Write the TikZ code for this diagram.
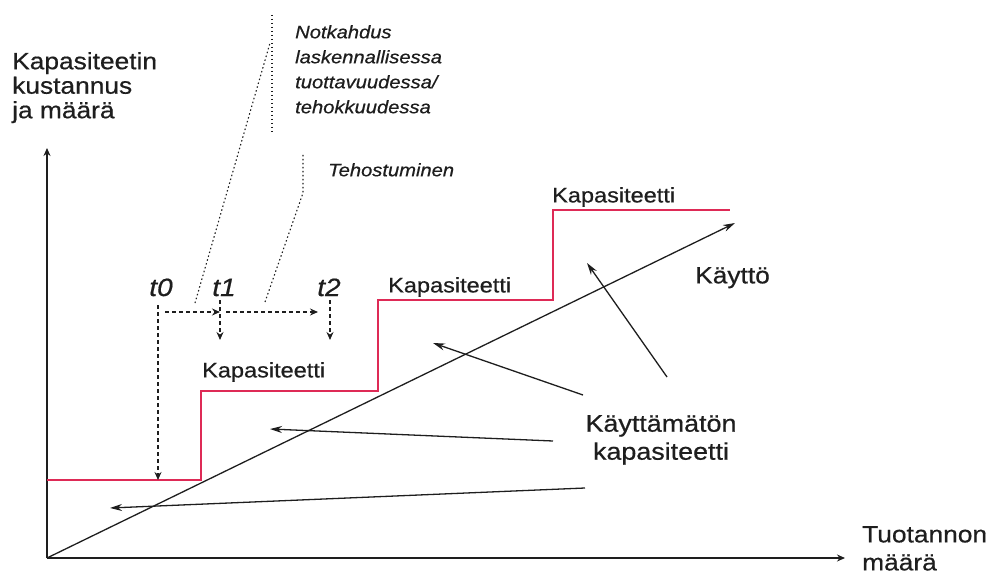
\documentclass[tikz,border=0pt]{standalone}
\usepackage{fontspec}
\setmainfont[FakeStretch=1.12,FakeBold=0.6]{Liberation Sans}
\usepackage{tikz}
\usetikzlibrary{arrows.meta,positioning,calc}
\definecolor{capred}{RGB}{222,42,86}
\definecolor{ink}{RGB}{30,30,30}

\begin{document}
\begin{tikzpicture}[x=1pt,y=-1pt,
  lbl/.style={inner sep=0pt, anchor=north west, text=ink, font=\fontsize{21}{24}\selectfont},
  big/.style={inner sep=0pt, align=left, text=ink, font=\fontsize{23.5}{24.5}\selectfont},
  note/.style={inner sep=0pt, align=left, anchor=north west, text=ink, font=\itshape\fontsize{18}{25}\selectfont},
  tlbl/.style={inner sep=0pt, anchor=base, text=ink, font=\itshape\fontsize{25}{25}\selectfont},
  axis/.style={line width=1.4pt, ink, -{Stealth[length=8pt,width=7pt]}},
  arr/.style={line width=1.3pt, ink, -{Stealth[length=12pt,width=7pt]}},
  capline/.style={line width=2.8pt, capred},
  tdash/.style={line width=1.2pt, ink, dash pattern=on 4pt off 3pt, -{Stealth[length=8pt,width=7pt]}},
  lead/.style={line width=1.1pt, ink, dash pattern=on 1.5pt off 2.5pt}
]
\useasboundingbox (0,0) rectangle (992,577);

\coordinate (O) at (47,558);
\coordinate (ytip) at (47,148);
\coordinate (xtip) at (845,558);
\coordinate (usetip) at (735,223);
\draw[axis] (O) -- (ytip);
\draw[axis] (O) -- (xtip);
\draw[arr] (O) -- (usetip);

\node[big, anchor=north west] (ylabel) at (12,52) {Kapasiteetin\\kustannus\\ja määrä};
\node[big, anchor=north west, font=\fontsize{23.5}{28}\selectfont] (xlabel) at (862,526) {Tuotannon\\määrä};
\node[big, anchor=north west] (use) at (695,267) {Käyttö};
\node[big, align=center, anchor=north, font=\fontsize{24}{28}\selectfont] (unused) at (661,415) {Käyttämätön\\kapasiteetti};

\coordinate (s0) at (47,480);
\coordinate (s1) at (201,391);
\coordinate (s2) at (378,300);
\coordinate (s3) at (553,210);
\coordinate (s4) at (730,210);
\draw[capline] (s0) -| (s1) -| (s2) -| (s3) -- (s4);

\node[lbl] (cap1) at (202,362) {Kapasiteetti};
\node[lbl] (cap2) at (388,277) {Kapasiteetti};
\node[lbl] (cap3) at (552,187) {Kapasiteetti};

\coordinate (u1a) at (585,488); \coordinate (u1b) at (110,508);
\coordinate (u2a) at (553,441); \coordinate (u2b) at (270,429);
\coordinate (u3a) at (583,395); \coordinate (u3b) at (433,343);
\coordinate (u4a) at (667,377); \coordinate (u4b) at (587,263);
\draw[arr] (u1a) -- (u1b);
\draw[arr] (u2a) -- (u2b);
\draw[arr] (u3a) -- (u3b);
\draw[arr] (u4a) -- (u4b);

\node[tlbl] (t0) at (161,296) {t0};
\node[tlbl] (t1) at (224,296) {t1};
\node[tlbl] (t2) at (329,296) {t2};

\coordinate (d0a) at (158,305); \coordinate (d0b) at (158,480);
\coordinate (d1a) at (220,300); \coordinate (d1b) at (220,340);
\coordinate (d2a) at (330,300); \coordinate (d2b) at (330,340);
\coordinate (h0) at (165,312); \coordinate (h1) at (220,312);
\coordinate (h2) at (226,312); \coordinate (h3) at (318,312);
\draw[tdash] (d0a) -- (d0b);
\draw[tdash] (d1a) -- (d1b);
\draw[tdash] (d2a) -- (d2b);
\draw[tdash] (h0) -- (h1);
\draw[tdash] (h2) -- (h3);

\node[note] (dip) at (295,25) {Notkahdus\\laskennallisessa\\tuottavuudessa/\\tehokkuudessa};
\node[note] (gain) at (328,163) {Tehostuminen};

\coordinate (n0) at (195,303); \coordinate (n1) at (270,43);
\coordinate (n2) at (272,15); \coordinate (n3) at (272,135);
\coordinate (g0) at (265,302); \coordinate (g1) at (303,193);
\coordinate (g2) at (303,153);
\draw[lead] (n0) -- (n1);
\draw[lead] (n2) -- (n3);
\draw[lead] (g0) -- (g1) -- (g2);
\end{tikzpicture}
\end{document}
